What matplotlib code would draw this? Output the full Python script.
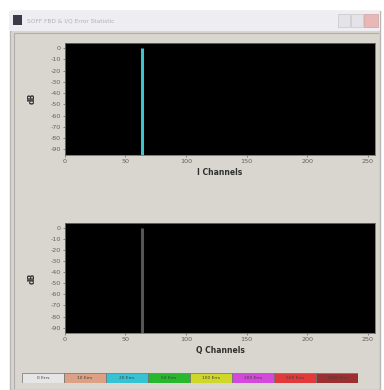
import matplotlib
matplotlib.use("Agg")
import matplotlib.pyplot as plt
from matplotlib.patches import Rectangle

# data
channels = [64]
i_level = [0]
q_level = [0]
y_ticks = [0, -10, -20, -30, -40, -50, -60, -70, -80, -90]
x_ticks = [0, 50, 100, 150, 200, 250]
legend_labels = ["0 Errs", "10 Errs", "20 Errs", "50 Errs", "100 Errs",
                 "200 Errs", "500 Errs", "1000 Errs"]
legend_colors = ["#e6e6e6", "#dca184", "#35c3d3", "#27b82e", "#cfd82a",
                 "#d448dc", "#e23a3a", "#9c2f2f"]
window_title = "SOFF FBD & I/Q Error Statistic"

plt.rcParams["axes.unicode_minus"] = False

fig = plt.figure(figsize=(3.84, 3.90), dpi=100)
fig.patch.set_facecolor("white")

# window frame
bg = fig.add_axes([0, 0, 1, 1])
bg.set_xlim(0, 384)
bg.set_ylim(390, 0)
bg.axis("off")
bg.add_patch(Rectangle((10, 11), 370, 379, facecolor="#d9d6d0", edgecolor="#b8b6b2", lw=1))
bg.add_patch(Rectangle((10, 11), 370, 20, facecolor="#eeeef2", edgecolor="none"))
bg.add_patch(Rectangle((13, 15), 9, 10, facecolor="#3a3a48", edgecolor="none"))
bg.text(27, 21, window_title, fontsize=4.2, color="#b0b0b8", va="center")
bg.add_patch(Rectangle((338, 14), 12, 13, facecolor="#e4e4e8", edgecolor="#c8c8cc", lw=0.5))
bg.add_patch(Rectangle((351, 14), 12, 13, facecolor="#e4e4e8", edgecolor="#c8c8cc", lw=0.5))
bg.add_patch(Rectangle((364, 14), 14, 13, facecolor="#e8b8b8", edgecolor="#d0a0a0", lw=0.5))
bg.plot([14, 14], [33, 388], color="#b0aeaa", lw=0.8)
bg.plot([14, 378], [33, 33], color="#b0aeaa", lw=0.8)

def spectrum(rect, levels, color, xlabel):
    ax = fig.add_axes(rect)
    ax.set_facecolor("black")
    ax.vlines(channels, -95, levels, color=color, lw=2.2)
    ax.set_xlim(0, 256)
    ax.set_ylim(-95, 5)
    ax.set_xticks(x_ticks)
    ax.set_yticks(y_ticks)
    ax.tick_params(labelsize=4.6, length=1.5, width=0.5, colors="#606060", pad=1.5)
    ax.set_xlabel(xlabel, fontsize=5.5, fontweight="bold", color="#303030", labelpad=3)
    ax.set_ylabel("dB", fontsize=5.5, fontweight="bold", color="#303030", labelpad=10)
    for s in ax.spines.values():
        s.set_color("#707070")
        s.set_linewidth(0.6)
    return ax

spectrum([0.169, 0.603, 0.808, 0.288], i_level, "#3fc4cc", "I Channels")
spectrum([0.169, 0.146, 0.808, 0.283], q_level, "#555555", "Q Channels")

# colour legend strip
lg = fig.add_axes([22 / 384, (390 - 383) / 390, 336 / 384, 10 / 390])
lg.set_xlim(0, len(legend_labels))
lg.set_ylim(0, 1)
lg.axis("off")
for i, (lab, col) in enumerate(zip(legend_labels, legend_colors)):
    lg.add_patch(Rectangle((i, 0), 1, 1, facecolor=col, edgecolor="#707070", lw=0.5))
    lg.text(i + 0.5, 0.5, lab, fontsize=3.2, ha="center", va="center", color="#404040")

fig.savefig("out.png", dpi=100)
